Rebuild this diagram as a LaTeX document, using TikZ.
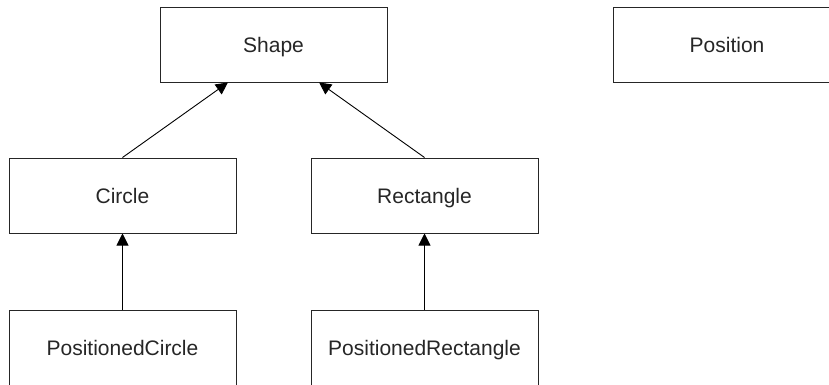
\documentclass[tikz,border=0pt]{standalone}
\usepackage{fontspec}
\setmainfont{Liberation Sans}
\usetikzlibrary{arrows.meta}
\usetikzlibrary{calc}
\tikzstyle{cls}   = [draw=black!85, line width=1pt, minimum width=227pt, minimum height=75pt, inner sep=0pt, text centered, text height=15pt, text depth=0pt, font=\fontsize{21}{25}\selectfont, text=black!85]
\tikzstyle{inh}   = [draw=black, line width=0.9pt, -{Triangle[length=12pt, width=12pt]}]

\begin{document}
\begin{tikzpicture}[x=1pt, y=-1pt]
     \useasboundingbox (0,0) rectangle (829,384);
     \draw
       node[cls] (shape)    at (273.5, 44.5)  {Shape}
       node[cls] (position) at (727, 44.5)    {Position}
       node[cls] (circle)   at (122.5, 195.5) {Circle}
       node[cls] (rect)     at (424.5, 195.5) {Rectangle}
       node[cls] (pcircle)  at (122.5, 347.5) {PositionedCircle}
       node[cls] (prect)    at (424.5, 347.5) {PositionedRectangle};
     \draw[inh] (pcircle.north) -- (circle.south);
     \draw[inh] (prect.north) -- (rect.south);
     \draw[inh] (circle.north) -- ($(shape.south west)!0.3!(shape.south east)$);
     \draw[inh] (rect.north) -- ($(shape.south west)!0.7!(shape.south east)$);
\end{tikzpicture}
\end{document}
